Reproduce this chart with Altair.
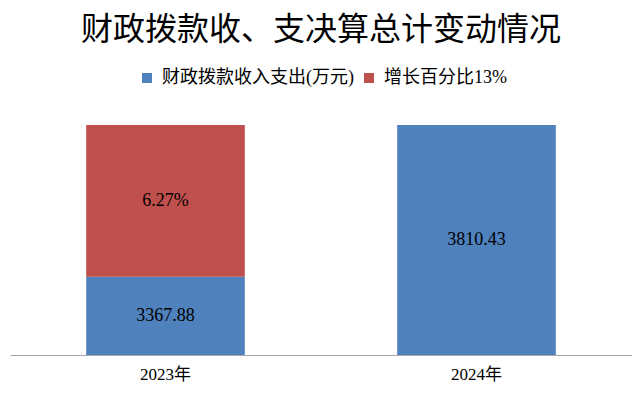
import altair as alt
import pandas as pd

years = ["2023年", "2023年", "2024年"]
series = ["财政拨款收入支出(万元)", "增长百分比13%", "财政拨款收入支出(万元)"]
values = [3367.88, 442.55, 3810.43]
labels = ["3367.88", "6.27%", "3810.43"]
orders = [0, 1, 0]

series_domain = ["财政拨款收入支出(万元)", "增长百分比13%"]
series_colors = ["#4F81BD", "#C0504D"]
Y_MIN = 3139.5
Y_MAX = 3810.43

df = pd.DataFrame({"year": years, "series": series, "value": values,
                   "label": labels, "ord": orders})

CJK = "Noto Sans CJK SC"
SERIF = "Liberation Serif, Noto Sans CJK SC"

base = alt.Chart(df).transform_stack(
    stack="value", groupby=["year"], as_=["y0", "y1"],
    sort=[alt.SortField("ord", order="ascending")]
).transform_calculate(
    ymid=f"(max(datum.y0, {Y_MIN}) + datum.y1) / 2"
)

xenc = alt.X("year:N", title=None,
             scale=alt.Scale(paddingInner=0.49, paddingOuter=0.245),
             axis=alt.Axis(labelAngle=0, ticks=False, domainColor="#a6a6a6",
                           labelFont=SERIF, labelFontSize=17, labelColor="#000000",
                           labelPadding=11))

yscale = alt.Scale(domain=[Y_MIN, Y_MAX], zero=False, nice=False, clamp=True)

bars = base.mark_bar().encode(
    x=xenc,
    y=alt.Y("y0:Q", scale=yscale, axis=None),
    y2="y1:Q",
    color=alt.Color("series:N", scale=alt.Scale(domain=series_domain, range=series_colors),
                    legend=alt.Legend(title=None, orient="none", direction="horizontal",
                                      legendX=128, legendY=-56, labelLimit=0,
                                      symbolType="square", symbolSize=100,
                                      symbolStrokeWidth=0,
                                      labelFont=SERIF, labelFontSize=18,
                                      labelColor="#000000", columnPadding=6,
                                      labelOffset=6)),
)

text = base.mark_text(font=SERIF, fontSize=18, color="#000000", baseline="middle").encode(
    x=alt.X("year:N"),
    y=alt.Y("ymid:Q", scale=yscale),
    text="label:N",
)

chart = (bars + text).properties(
    width=622, height=230,
    autosize=alt.AutoSizeParams(type="none"),
    padding={"left": 2, "top": 117, "right": 0, "bottom": 34},
    title=alt.TitleParams("财政拨款收、支决算总计变动情况", font=CJK, fontSize=32,
                          fontWeight="normal", color="#000000", anchor="middle", offset=22),
).configure_view(stroke=None)

chart.save("out.html", embed_options={"renderer": "svg", "actions": False})
